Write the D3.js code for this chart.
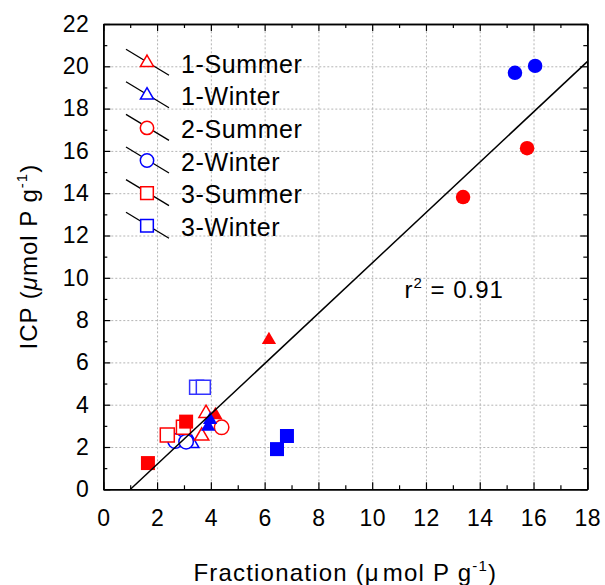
<!DOCTYPE html>
<html>
<head>
<meta charset="utf-8">
<script src="https://cdn.jsdelivr.net/npm/d3@7"></script>
<style>
  body { margin: 0; background: #fff; }
  text { font-family: "Liberation Sans", Arial, sans-serif; }
</style>
</head>
<body>
<div id="chart"></div>
<script>
// open markers (legend series) [fractionation, ICP]
const s1Summer = [[3.82, 3.59], [3.66, 2.52]]
const s1Winter = [[3.29, 2.17]]
const s2Summer = [[4.40, 2.93]]
const s2Winter = [[2.67, 2.28], [3.08, 2.25]]
const s3Summer = [[2.38, 2.57], [2.98, 2.93]]
const s3Winter = [[3.47, 4.82], [3.72, 4.82]]

// filled markers (not in legend)
const s1SummerFilled = [[4.17, 3.51], [6.16, 7.06]]
const s1WinterFilled = [[3.90, 2.96], [3.97, 3.28]]
const s2SummerFilled = [[13.38, 13.82], [15.76, 16.13]]
const s2WinterFilled = [[15.31, 19.69], [16.06, 20.02]]
const s3SummerFilled = [[1.66, 1.24], [3.08, 3.20]]
const s3WinterFilled = [[6.46, 1.90], [6.83, 2.52]]

const legendLabels = ["1-Summer", "1-Winter", "2-Summer", "2-Winter", "3-Summer", "3-Winter"]
const xTicks = [0, 2, 4, 6, 8, 10, 12, 14, 16, 18]
const yTicks = [0, 2, 4, 6, 8, 10, 12, 14, 16, 18, 20, 22]

// regression line
const fitSlope = 1.19
const fitIntercept = -1.2
const fitRange = [1.0, 18]
const r2Label = "0.91"

let dimensions = {
  width: 605,
  height: 585,
  margin: { top: 24, bottom: 95.7, left: 103.3, right: 17.7 }
}
const w = dimensions.width - dimensions.margin.left - dimensions.margin.right
const h = dimensions.height - dimensions.margin.top - dimensions.margin.bottom

const svg = d3.select("#chart").append("svg")
  .attr("width", dimensions.width)
  .attr("height", dimensions.height)

const container = svg.append("g")
  .attr("transform", `translate(${dimensions.margin.left},${dimensions.margin.top})`)

const xScale = d3.scaleLinear().domain([0, 18]).range([0, w])
const yScale = d3.scaleLinear().domain([0, 22]).range([h, 0])

// grid
container.append("g")
  .attr("transform", `translate(0,${h})`)
  .call(d3.axisBottom(xScale).tickValues(xTicks.slice(1, -1)).tickSize(-h).tickFormat(""))
  .call(g => g.select(".domain").remove())
  .selectAll("line").attr("stroke", "#b4b4b4").attr("stroke-dasharray", "2,2")
container.append("g")
  .call(d3.axisLeft(yScale).tickValues(yTicks.slice(1, -1)).tickSize(-w).tickFormat(""))
  .call(g => g.select(".domain").remove())
  .selectAll("line").attr("stroke", "#b4b4b4").attr("stroke-dasharray", "2,2")

// axes: major + minor ticks on all four sides, pointing inward
const xMinor = d3.range(1, 18, 2)
const yMinor = d3.range(1, 22, 2)

const xAxisGroup = container.append("g")
  .attr("transform", `translate(0,${h})`)
  .call(d3.axisBottom(xScale).tickValues(xTicks).tickSize(-7).tickSizeOuter(0).tickPadding(20))
xAxisGroup.selectAll("text").attr("font-size", "23px").attr("letter-spacing", "0.5px")
container.append("g").attr("transform", `translate(0,${h})`)
  .call(d3.axisBottom(xScale).tickValues(xMinor).tickSize(-4).tickSizeOuter(0).tickFormat(""))

const yAxisGroup = container.append("g")
  .call(d3.axisLeft(yScale).tickValues(yTicks).tickSize(-7).tickSizeOuter(0).tickPadding(14))
yAxisGroup.selectAll("text").attr("font-size", "23px").attr("letter-spacing", "0.5px")
container.append("g")
  .call(d3.axisLeft(yScale).tickValues(yMinor).tickSize(-4).tickSizeOuter(0).tickFormat(""))

container.append("g")
  .call(d3.axisTop(xScale).tickValues(xTicks).tickSize(-7).tickSizeOuter(0).tickFormat(""))
container.append("g")
  .call(d3.axisTop(xScale).tickValues(xMinor).tickSize(-4).tickSizeOuter(0).tickFormat(""))
container.append("g").attr("transform", `translate(${w},0)`)
  .call(d3.axisRight(yScale).tickValues(yTicks).tickSize(-7).tickSizeOuter(0).tickFormat(""))
container.append("g").attr("transform", `translate(${w},0)`)
  .call(d3.axisRight(yScale).tickValues(yMinor).tickSize(-4).tickSizeOuter(0).tickFormat(""))

container.selectAll(".domain").attr("stroke", "#000").attr("stroke-width", 1.6)
container.selectAll(".tick line").filter(function () { return !this.getAttribute("stroke-dasharray") })
  .attr("stroke", "#000").attr("stroke-width", 1.2)

// markers
const symbolOf = { tri: d3.symbolTriangle, circ: d3.symbolCircle, sq: d3.symbolSquare }
const sizeOf = { tri: 88, circ: 165, sq: 196 }

function drawPoints(data, shape, color, filled) {
  container.append("g")
    .selectAll("path")
    .data(data)
    .join("path")
    .attr("transform", d => `translate(${xScale(d[0])},${yScale(d[1])})`)
    .attr("d", d3.symbol().type(symbolOf[shape]).size(sizeOf[shape]))
    .attr("fill", filled ? color : "#fff")
    .attr("stroke", color)
    .attr("stroke-width", filled ? 0 : 1.5)
}

drawPoints(s1Winter, "tri", "#0000ff", false)
drawPoints(s2Winter, "circ", "#0000ff", false)
drawPoints(s3Summer, "sq", "#ff0000", false)
drawPoints(s3Winter, "sq", "#3333ff", false)
drawPoints(s1Summer, "tri", "#ff0000", false)
drawPoints(s2Summer, "circ", "#ff0000", false)

drawPoints(s3SummerFilled, "sq", "#ff0000", true)
drawPoints(s1SummerFilled, "tri", "#ff0000", true)
drawPoints(s1WinterFilled, "tri", "#0000ff", true)
drawPoints(s3WinterFilled, "sq", "#0000ff", true)
drawPoints(s2SummerFilled, "circ", "#ff0000", true)
drawPoints(s2WinterFilled, "circ", "#0000ff", true)

// regression line
container.append("line")
  .attr("x1", xScale(fitRange[0]))
  .attr("y1", yScale(fitSlope * fitRange[0] + fitIntercept))
  .attr("x2", xScale(fitRange[1]))
  .attr("y2", yScale(fitSlope * fitRange[1] + fitIntercept))
  .attr("stroke", "#000")
  .attr("stroke-width", 1.5)

// r2 label
const r2 = container.append("text")
  .attr("x", xScale(11.2))
  .attr("y", yScale(9.05))
  .attr("font-size", "24px")
  .attr("letter-spacing", "1px")
r2.append("tspan").text("r")
r2.append("tspan").attr("font-size", "15px").attr("dy", -10).text("2")
r2.append("tspan").attr("dy", 10).text(" = " + r2Label)

// legend
const legendShapes = ["tri", "tri", "circ", "circ", "sq", "sq"]
const legendColors = ["#ff0000", "#0000ff", "#ff0000", "#0000ff", "#ff0000", "#0000ff"]
const legend = svg.append("g")
legendLabels.forEach((label, i) => {
  const cy = 62.7 + i * 32.6
  const row = legend.append("g").attr("transform", `translate(147,${cy})`)
  row.append("line")
    .attr("x1", -21).attr("y1", -13.5).attr("x2", 22).attr("y2", 12.5)
    .attr("stroke", "#000").attr("stroke-width", 1.3)
  row.append("path")
    .attr("d", d3.symbol().type(symbolOf[legendShapes[i]]).size(legendShapes[i] === "sq" ? 160 : sizeOf[legendShapes[i]] * 0.85))
    .attr("fill", "#fff")
    .attr("stroke", legendColors[i])
    .attr("stroke-width", 1.5)
  row.append("text")
    .attr("x", 34)
    .attr("y", 10)
    .attr("font-size", "25px")
    .attr("letter-spacing", "0.6px")
    .text(label)
})

// axis titles
const xTitle = svg.append("text")
  .attr("x", dimensions.margin.left + w / 2)
  .attr("y", 581)
  .attr("font-size", "24px")
  .attr("letter-spacing", "1.2px")
  .attr("text-anchor", "middle")
xTitle.append("tspan").text("Fractionation (μ")
xTitle.append("tspan").attr("dx", 3).text("mol P g")
xTitle.append("tspan").attr("font-size", "15px").attr("dy", -10).text("-1")
xTitle.append("tspan").attr("dy", 10).text(")")

const yTitle = svg.append("text")
  .attr("transform", `translate(37,${dimensions.margin.top + h / 2}) rotate(-90)`)
  .attr("font-size", "24px")
  .attr("letter-spacing", "1px")
  .attr("text-anchor", "middle")
yTitle.append("tspan").text("ICP (")
yTitle.append("tspan").attr("font-style", "italic").text("μ")
yTitle.append("tspan").text("mol P g")
yTitle.append("tspan").attr("font-size", "15px").attr("dy", -10).text("-1")
yTitle.append("tspan").attr("dy", 10).text(")")
</script>
</body>
</html>
